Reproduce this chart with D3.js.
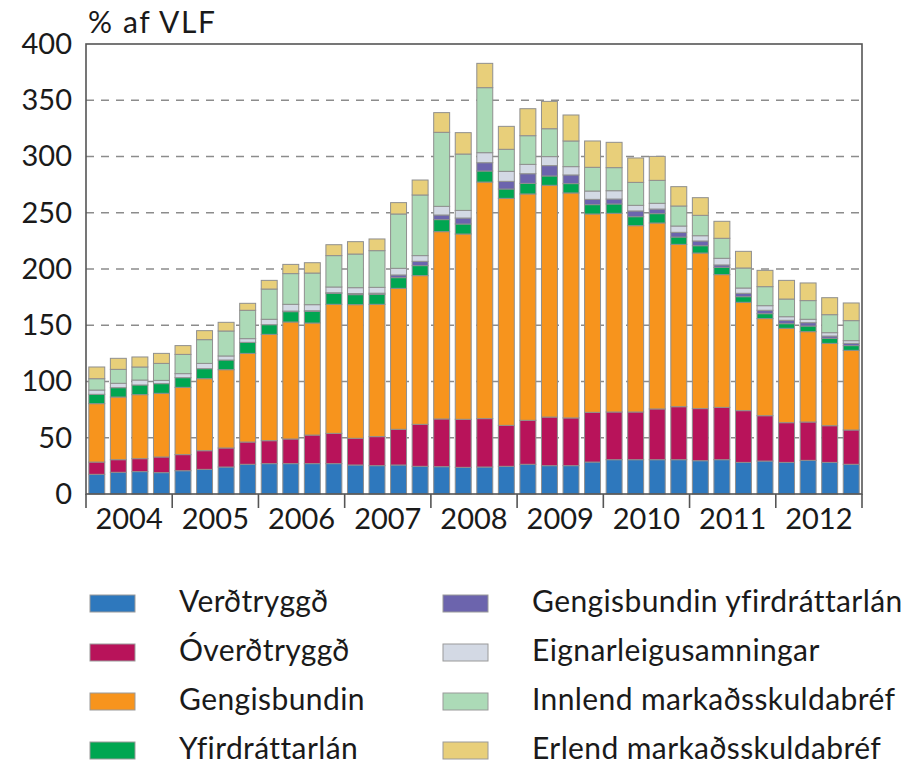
<!DOCTYPE html>
<html><head><meta charset="utf-8">
<script src="https://cdn.jsdelivr.net/npm/d3@7"></script>
<style>body{margin:0;background:#fff}svg{display:block}text{font-family:Lato,"DejaVu Sans",sans-serif;fill:#1a1a1a}</style>
</head><body>
<script>
const years = ["2004","2005","2006","2007","2008","2009","2010","2011","2012"];
const quarters = years.flatMap(y => ["Q1","Q2","Q3","Q4"].map(q => y + q));
const yTicks = [0,50,100,150,200,250,300,350,400];
const seriesNames = ["Verðtryggð","Óverðtryggð","Gengisbundin","Yfirdráttarlán","Gengisbundin yfirdráttarlán","Eignarleigusamningar","Innlend markaðsskuldabréf","Erlend markaðsskuldabréf"];
const seriesColors = ["#2e78bd","#b8135a","#f7941d","#00a651","#6c64ad","#d3d9e4","#acdab7","#e8cf7a"];
const verdtryggd = [17.5,19.3,19.9,19.0,20.7,21.9,24.0,26.4,27.0,27.0,27.0,27.0,25.8,25.2,25.8,24.6,24.3,23.7,24.0,24.6,26.4,25.2,25.2,28.4,30.5,30.5,30.5,30.5,29.6,30.5,28.1,29.3,28.1,29.9,28.1,26.4];
const overdtryggd = [10.9,11.2,11.5,13.9,14.3,16.6,16.9,19.8,20.4,21.9,25.4,26.9,23.7,25.8,31.7,37.3,42.4,42.7,43.0,36.4,39.1,43.2,42.4,44.2,42.4,42.4,45.1,47.1,46.3,46.5,46.0,40.3,35.3,34.1,32.6,30.5];
const gengisbundin = [51.9,55.7,56.9,56.6,59.8,64.0,69.6,78.8,94.5,104.0,99.6,114.7,118.8,117.6,125.3,132.2,166.5,164.7,210.3,201.8,201.2,206.0,200.0,176.3,176.6,165.6,165.3,144.3,138.3,118.0,96.3,86.3,83.9,80.3,73.2,70.8];
const yfirdrattarlan = [8.3,8.3,8.6,8.6,8.6,8.9,8.6,9.8,8.6,9.2,10.4,9.8,8.9,8.9,9.5,8.9,10.7,8.9,9.8,8.3,9.4,8.3,8.3,8.3,8.3,8.0,8.3,6.5,6.5,6.5,5.0,4.4,4.1,5.0,4.5,4.2];
const gengisYfirdr = [0,0,0,0,0,0,0,0,0,0.5,0.5,0.5,1.0,1.0,2.4,3.8,4.1,5.3,7.4,6.8,8.6,9.2,7.7,4.7,4.4,5.1,4.1,4.2,4.2,2.1,3.0,3.0,3.0,3.0,2.0,2.0];
const eignarleiga = [3.8,3.9,4.4,2.9,3.6,4.7,3.6,3.3,4.8,6.0,5.4,5.1,5.2,5.2,5.9,5.1,7.7,6.8,8.9,8.9,8.3,8.0,7.4,7.4,7.4,5.0,5.1,5.6,4.7,5.9,4.7,4.1,3.2,3.0,3.0,2.4];
const innlend = [10.1,12.4,11.6,15.1,17.1,21.1,22.2,25.2,26.9,27.3,28.1,27.9,29.9,32.6,48.3,53.9,65.8,50.1,57.8,19.6,25.5,24.8,22.8,21.1,20.5,20.4,20.4,17.8,18.1,17.8,17.8,16.9,15.7,16.6,16.0,17.8];
const erlend = [10.4,9.8,8.9,8.9,7.8,8.0,7.7,6.2,7.7,8.2,9.2,9.7,11.0,10.4,10.1,13.3,17.5,19.0,21.6,20.4,24.0,24.3,23.1,23.4,22.5,21.7,21.3,17.2,15.7,15.1,14.8,14.5,16.6,15.7,15.1,15.7];
const seriesValues = [verdtryggd,overdtryggd,gengisbundin,yfirdrattarlan,gengisYfirdr,eignarleiga,innlend,erlend];

const W = 914, H = 773;
const m = {left:86, right:52, top:44, bottom:279};
const svg = d3.select("body").append("svg").attr("width",W).attr("height",H);
const x = d3.scaleBand().domain(quarters).range([m.left, W-m.right]).paddingInner(0.26).paddingOuter(0.13);
const y = d3.scaleLinear().domain([0,400]).range([H-m.bottom, m.top]);

// gridlines
svg.append("g").selectAll("line").data(yTicks.filter(t=>t>0&&t<400)).join("line")
  .attr("x1",m.left).attr("x2",W-m.right).attr("y1",d=>y(d)).attr("y2",d=>y(d))
  .attr("stroke","#8c8c8c").attr("stroke-width",1.6).attr("stroke-dasharray","8,7");

// stacked bars
const table = quarters.map((q,i)=>{const o={q}; seriesNames.forEach((s,k)=>o[s]=seriesValues[k][i]); return o;});
const stack = d3.stack().keys(seriesNames)(table);
svg.append("g").selectAll("g").data(stack).join("g")
  .attr("fill",(d,i)=>seriesColors[i])
  .selectAll("rect").data(d=>d).join("rect")
  .attr("x",d=>x(d.data.q)).attr("width",x.bandwidth())
  .attr("y",d=>y(d[1])).attr("height",d=>Math.max(0,y(d[0])-y(d[1])))
  .attr("stroke",d=>(d[1]-d[0])>0?"#8f8f8f":"none").attr("stroke-width",1);

// frame
const frame = svg.append("g").attr("stroke","#555").attr("stroke-width",1.6).attr("fill","none");
frame.append("rect").attr("x",m.left).attr("y",m.top).attr("width",W-m.right-m.left).attr("height",H-m.bottom-m.top);

// y axis labels
const yAxis = d3.axisLeft(y).tickValues(yTicks).tickSize(0).tickPadding(14);
const gy = svg.append("g").attr("transform",`translate(${m.left},0)`).call(yAxis);
gy.select(".domain").remove();
gy.selectAll("text").style("font-size","29px").attr("font-family","Lato").attr("fill","#1a1a1a");

// x axis: year separators and labels
const yearScale = d3.scaleBand().domain(years).range([m.left, W-m.right]);
const gx = svg.append("g").attr("transform",`translate(0,${H-m.bottom})`);
gx.selectAll("line").data(years.concat(["end"])).join("line")
  .attr("x1",(d,i)=>m.left+i*yearScale.step()).attr("x2",(d,i)=>m.left+i*yearScale.step())
  .attr("y1",0).attr("y2",14).attr("stroke","#555").attr("stroke-width",1.6);
gx.selectAll("text").data(years).join("text")
  .attr("x",d=>yearScale(d)+yearScale.bandwidth()/2).attr("y",35)
  .attr("text-anchor","middle").style("font-size","29px").text(d=>d);

// title
svg.append("text").attr("x",88).attr("y",33).style("font-size","30px").style("letter-spacing","1.6px").text("% af VLF");

// legend
const leg = svg.append("g");
const cols = [90, 443], textOff = 89, rowY = [612, 661, 710, 759];
seriesNames.forEach((s,i)=>{
  const c = Math.floor(i/4), r = i%4;
  leg.append("rect").attr("x",cols[c]).attr("y",rowY[r]-17).attr("width",45).attr("height",17)
    .attr("fill",seriesColors[i]).attr("stroke","#9a9a9a").attr("stroke-width",1);
  leg.append("text").attr("x",cols[c]+textOff).attr("y",rowY[r]).style("font-size","30px").style("letter-spacing","0.4px").text(s);
});
</script>
</body></html>
